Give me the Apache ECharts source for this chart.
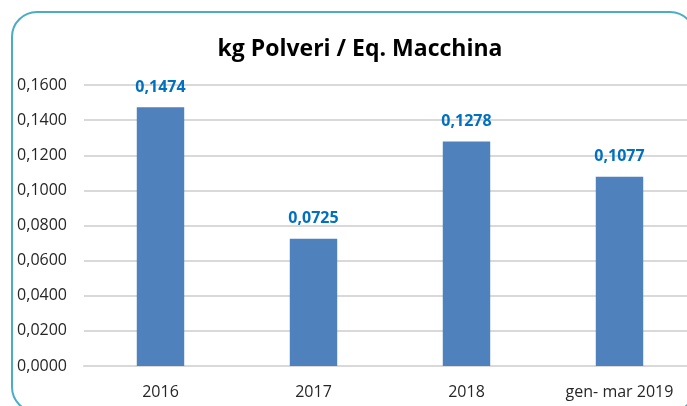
<!DOCTYPE html>
<html>
<head>
<meta charset="utf-8">
<script src="https://cdn.jsdelivr.net/npm/echarts@6/dist/echarts.min.js"></script>
<style>
  html, body { margin: 0; padding: 0; background: #fff; overflow: hidden; }
  #main { width: 700px; height: 406px; }
</style>
</head>
<body>
<div id="main"></div>
<script>
// categorie e valori
var categories = ['2016', '2017', '2018', 'gen- mar 2019'];
var values = [0.1474, 0.0725, 0.1278, 0.1077];
var yTicks = [0, 0.02, 0.04, 0.06, 0.08, 0.10, 0.12, 0.14, 0.16];

function fmt(v) {
  return v.toFixed(4).replace('.', ',');
}

var myChart = echarts.init(document.getElementById('main'));

var option = {
  animation: false,
  textStyle: { fontFamily: 'Open Sans' },
  title: {
    text: 'kg Polveri / Eq. Macchina',
    left: 355,
    textAlign: 'center',
    top: 33,
    textStyle: {
      fontFamily: 'Open Sans',
      fontWeight: 'bold',
      fontSize: 23,
      color: '#000'
    }
  },
  graphic: [{
    type: 'rect',
    shape: { x: 12, y: 12, width: 683, height: 400, r: 25 },
    style: { fill: 'none', stroke: '#4bacc6', lineWidth: 2 },
    z: 10
  }],
  grid: {
    left: 84,
    right: 4,
    top: 85,
    bottom: 40
  },
  xAxis: {
    type: 'category',
    data: categories,
    axisTick: { show: false },
    axisLine: { lineStyle: { color: '#d9d9d9', width: 2 } },
    axisLabel: {
      color: '#262626',
      fontSize: 16,
      margin: 18
    }
  },
  yAxis: {
    type: 'value',
    min: yTicks[0],
    max: yTicks[yTicks.length - 1],
    interval: 0.02,
    axisLine: { show: false },
    axisTick: { show: false },
    splitLine: { lineStyle: { color: '#d9d9d9', width: 2 } },
    axisLabel: {
      color: '#262626',
      fontSize: 16,
      margin: 17,
      formatter: fmt
    }
  },
  series: [{
    type: 'bar',
    data: values,
    barWidth: '31%',
    itemStyle: { color: '#4f81bd' },
    label: {
      show: true,
      position: 'top',
      distance: 12,
      color: '#0070c0',
      fontWeight: 'bold',
      fontSize: 16,
      formatter: function (p) { return fmt(p.value); }
    }
  }]
};

myChart.setOption(option);
window.addEventListener('resize', function () {
  myChart.resize();
});
</script>
</body>
</html>
